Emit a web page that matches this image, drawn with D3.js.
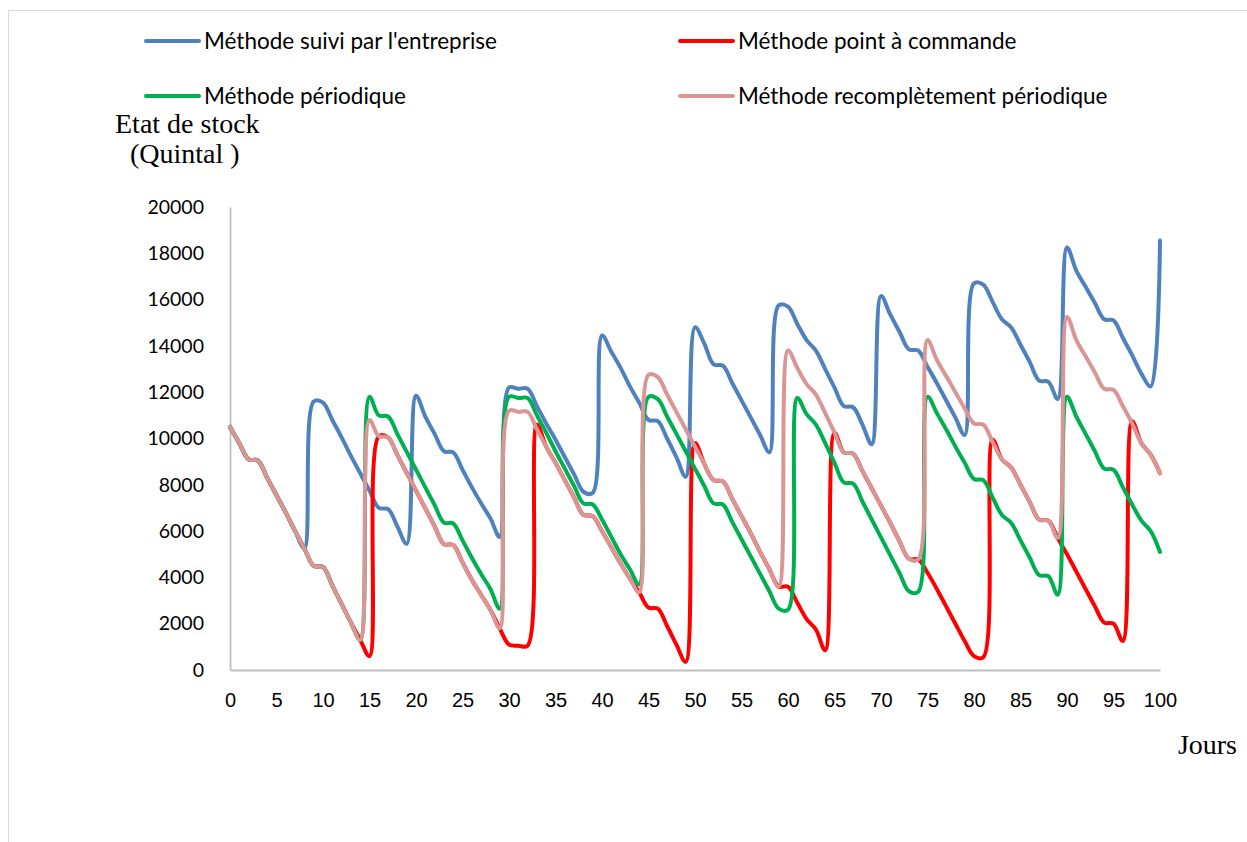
<!DOCTYPE html>
<html>
<head>
<meta charset="utf-8">
<script src="https://cdn.jsdelivr.net/npm/d3@7"></script>
<style>
  body { margin: 0; background: #fff; }
  svg { display: block; }
</style>
</head>
<body>
<svg id="chart" width="1247" height="842"></svg>
<script>
// Stock level (quintals) per day, days 0..100, for each replenishment method
const seriesNames = [
  "Méthode suivi par l'entreprise",
  "Méthode point à commande",
  "Méthode périodique",
  "Méthode recomplètement périodique"
];

const entreprise = [
  10500, 9800, 9100, 9050, 8300, 7550, 6800, 6000, 5250, 11600,
  11550, 10800, 10050, 9250, 8500, 7750, 7000, 6950, 6200, 5450,
  11850, 10950, 10200, 9450, 9400, 8650, 7900, 7200, 6550, 5750,
  12200, 12150, 12150, 11400, 10650, 9950, 9200, 8450, 7700, 7650,
  14450, 13750, 13050, 12250, 11550, 10800, 10750, 10000, 9200, 8350,
  14800, 14100, 13200, 13150, 12400, 11650, 10900, 10150, 9400, 15750,
  15700, 14950, 14250, 13800, 13000, 12200, 11400, 11350, 10600, 9750,
  16150, 15350, 14600, 13850, 13800, 13100, 12400, 11650, 10900, 10150,
  16700, 16650, 15900, 15150, 14800, 14050, 13300, 12500, 12450, 11700,
  18250, 17250, 16550, 15850, 15150, 15100, 14350, 13600, 12800, 12250,
  18550
];

const pointCommande = [
  10500, 9800, 9100, 9050, 8300, 7550, 6800, 6000, 5250, 4500,
  4450, 3650, 2850, 2050, 1300, 600, 10100, 10050, 9280, 8520,
  7750, 6980, 6210, 5440, 5400, 4650, 3900, 3250, 2600, 1800,
  1100, 1050, 1050, 10600, 9650, 8950, 8200, 7450, 6700, 6650,
  6000, 5300, 4600, 3950, 3350, 2700, 2650, 1900, 1100, 350,
  9800, 8900, 8200, 8150, 7400, 6650, 5900, 5100, 4350, 3600,
  3600, 2900, 2200, 1750, 850, 10250, 9400, 9350, 8600, 7850,
  7100, 6350, 5550, 4800, 4780, 4200, 3500, 2750, 2000, 1250,
  600, 550, 9950, 9100, 8750, 8000, 7250, 6500, 6450, 5700,
  5000, 4250, 3500, 2750, 2050, 2000, 1250, 10750, 9800, 9300,
  8500
];

const periodique = [
  10500, 9800, 9100, 9050, 8300, 7550, 6800, 6000, 5250, 4500,
  4450, 3650, 2850, 2050, 1300, 11800, 11000, 10950, 10190, 9420,
  8660, 7890, 7130, 6370, 6330, 5600, 4850, 4150, 3500, 2650,
  11800, 11750, 11750, 11000, 10250, 9450, 8700, 7950, 7200, 7150,
  6500, 5750, 5000, 4350, 3700, 11800, 11700, 10950, 10200, 9450,
  8700, 7950, 7200, 7150, 6400, 5650, 4900, 4150, 3400, 2650,
  2600, 11750, 11050, 10600, 9800, 8950, 8100, 8050, 7280, 6500,
  5730, 4950, 4180, 3400, 3380, 11800, 11100, 10400, 9650, 8950,
  8250, 8200, 7450, 6700, 6350, 5600, 4850, 4100, 4050, 3250,
  11800, 10950, 10200, 9450, 8700, 8650, 7900, 7150, 6450, 6000,
  5100
];

const recompletement = [
  10500, 9800, 9100, 9050, 8300, 7550, 6800, 6000, 5250, 4500,
  4450, 3650, 2850, 2050, 1300, 10800, 10100, 10050, 9280, 8520,
  7750, 6980, 6210, 5440, 5400, 4650, 3900, 3250, 2600, 1800,
  11200, 11150, 11150, 10400, 9650, 8950, 8200, 7450, 6700, 6650,
  6000, 5300, 4600, 3950, 3350, 12750, 12650, 11900, 11150, 10400,
  9650, 8900, 8200, 8150, 7400, 6650, 5900, 5100, 4350, 3600,
  13800, 13050, 12350, 11900, 11100, 10250, 9400, 9350, 8600, 7850,
  7100, 6350, 5550, 4800, 4780, 14250, 13400, 12700, 12000, 11300,
  10650, 10600, 9850, 9100, 8750, 8000, 7250, 6500, 6450, 5700,
  15250, 14250, 13550, 12850, 12150, 12100, 11400, 10650, 9800, 9300,
  8500
];

const xTicks = [0, 5, 10, 15, 20, 25, 30, 35, 40, 45, 50, 55, 60, 65, 70, 75, 80, 85, 90, 95, 100];
const yTicks = [0, 2000, 4000, 6000, 8000, 10000, 12000, 14000, 16000, 18000, 20000];

const colors = ["#4f81bd", "#ff0000", "#00b050", "#d99694"];
const allSeries = [entreprise, pointCommande, periodique, recompletement];

const svg = d3.select("#chart");

// outer frame (top and left edges)
svg.append("path")
  .attr("d", "M8.5,842 V10.5 H1247")
  .attr("fill", "none")
  .attr("stroke", "#d9d9d9")
  .attr("stroke-width", 1);

const x = d3.scaleLinear().domain([0, 100]).range([230, 1160]);
const y = d3.scaleLinear().domain([0, 20000]).range([670, 207]);

// axes
const xAxis = d3.axisBottom(x).tickValues(xTicks).tickSize(0).tickSizeOuter(0).tickPadding(22.5);
const gx = svg.append("g").attr("transform", "translate(0,670)").call(xAxis);
gx.select(".domain").attr("stroke", "#bfbfbf").attr("stroke-width", 1.8);
gx.selectAll("text")
  .attr("font-family", "'Liberation Sans', Arial, sans-serif")
  .attr("font-size", 20)
  .attr("fill", "#000");

const yAxis = d3.axisLeft(y).tickValues(yTicks).tickSize(0).tickSizeOuter(0).tickPadding(26)
  .tickFormat(d3.format("d"));
const gy = svg.append("g").attr("transform", "translate(230,0)").call(yAxis);
gy.select(".domain").attr("stroke", "#bfbfbf").attr("stroke-width", 1.8);
gy.selectAll("text")
  .attr("font-family", "Lato, 'Open Sans', sans-serif")
  .attr("font-size", 19.5)
  .attr("fill", "#000");

// series lines (smoothed)
const line = d3.line()
  .x((d, i) => x(i))
  .y(d => y(d))
  .curve(d3.curveCatmullRom.alpha(0.5));

svg.append("g")
  .selectAll("path")
  .data(allSeries)
  .join("path")
  .attr("d", d => line(d))
  .attr("fill", "none")
  .attr("stroke", (d, i) => colors[i])
  .attr("stroke-width", 4)
  .attr("stroke-linejoin", "round")
  .attr("stroke-linecap", "round");

// legend, two columns by two rows
const legendPos = [
  { x: 146, y: 41 },
  { x: 680, y: 41 },
  { x: 146, y: 96 },
  { x: 680, y: 96 }
];
const legend = svg.append("g")
  .selectAll("g")
  .data(seriesNames)
  .join("g")
  .attr("transform", (d, i) => `translate(${legendPos[i].x},${legendPos[i].y})`);
legend.append("line")
  .attr("x1", 0).attr("x2", 53)
  .attr("y1", 0).attr("y2", 0)
  .attr("stroke", (d, i) => colors[i])
  .attr("stroke-width", 4)
  .attr("stroke-linecap", "round");
legend.append("text")
  .attr("x", 58)
  .attr("y", 7.5)
  .attr("font-family", "Lato, 'Open Sans', sans-serif")
  .attr("font-size", 22.5)
  .attr("fill", "#000")
  .text(d => d);

// axis titles
const serif = "'Liberation Serif', 'Times New Roman', serif";
svg.append("text")
  .attr("x", 115).attr("y", 133)
  .attr("font-family", serif).attr("font-size", 28).attr("fill", "#000")
  .text("Etat de stock");
svg.append("text")
  .attr("x", 130).attr("y", 163)
  .attr("font-family", serif).attr("font-size", 28).attr("fill", "#000")
  .text("(Quintal )");
svg.append("text")
  .attr("x", 1237).attr("y", 754)
  .attr("text-anchor", "end")
  .attr("font-family", serif).attr("font-size", 28).attr("fill", "#000")
  .text("Jours");
</script>
</body>
</html>
